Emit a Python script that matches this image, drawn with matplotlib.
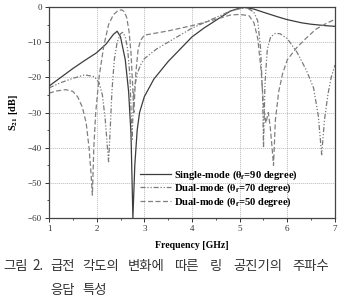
"""S21 response of the ring resonator for three feed angles (single / dual mode)."""
import matplotlib
matplotlib.use("Agg")
import matplotlib.pyplot as plt
from matplotlib.ticker import MultipleLocator

# values (GHz, dB)
single_f = [1.0, 1.25, 1.5, 1.75, 2.0, 2.2, 2.35, 2.43, 2.5, 2.6, 2.67, 2.72, 2.76,
            2.8, 2.85, 2.9, 3.0, 3.2, 3.5, 3.75, 4.0, 4.25, 4.5, 4.8, 5.0, 5.1,
            5.3, 5.5, 5.8, 6.0, 6.3, 6.5, 6.8, 7.0]
single_db = [-22.5, -20.0, -17.5, -15.2, -13.0, -10.5, -7.8, -6.9, -8.5, -15.0, -24.0, -36.0, -60.0,
             -45.0, -35.0, -30.0, -25.5, -20.5, -15.5, -12.0, -8.5, -6.0, -3.8, -1.2, -0.3, -0.1,
             -0.6, -1.5, -2.8, -3.6, -4.5, -4.9, -5.3, -5.5]

dual70_f = [1.0, 1.25, 1.5, 1.75, 1.95, 2.05, 2.12, 2.18, 2.22, 2.25, 2.28, 2.32, 2.37,
            2.43, 2.5, 2.55, 2.6, 2.65, 2.7, 2.74, 2.78, 2.85, 2.92, 3.0, 3.25, 3.5,
            3.75, 4.0, 4.5, 4.8, 5.0, 5.15, 5.3, 5.38, 5.44, 5.48, 5.5, 5.53, 5.58,
            5.65, 5.75, 5.85, 6.0, 6.2, 6.4, 6.55, 6.65, 6.72, 6.78, 6.85, 6.92, 7.0]
dual70_db = [-23.0, -21.5, -20.3, -19.3, -19.8, -21.5, -25.0, -32.0, -39.0, -44.0, -36.0, -24.0, -15.0,
             -10.0, -7.6, -7.2, -8.5, -12.0, -20.0, -38.0, -24.0, -19.0, -16.5, -14.7, -12.0, -10.0,
             -8.0, -6.0, -3.0, -1.2, -0.5, -0.2, -1.5, -4.0, -12.0, -25.0, -40.0, -22.0, -12.0,
             -8.5, -7.5, -7.6, -9.0, -12.8, -18.0, -23.0, -31.0, -42.0, -32.0, -25.0, -20.0, -16.5]

dual50_f = [1.0, 1.15, 1.35, 1.5, 1.6, 1.7, 1.78, 1.84, 1.88, 1.91, 1.94, 1.98, 2.05,
            2.15, 2.25, 2.35, 2.45, 2.52, 2.58, 2.63, 2.68, 2.72, 2.75, 2.78, 2.82, 2.87,
            2.92, 3.0, 3.5, 4.0, 4.5, 4.8, 5.0, 5.2, 5.3, 5.38, 5.45, 5.5, 5.55, 5.6,
            5.64, 5.68, 5.71, 5.75, 5.82, 5.9, 6.0, 6.2, 6.4, 6.6, 6.8, 7.0]
dual50_db = [-24.5, -23.9, -23.5, -24.0, -25.5, -28.5, -33.0, -40.0, -47.0, -53.5, -40.0, -30.0, -20.0,
             -11.0, -5.0, -2.2, -1.0, -0.8, -1.3, -3.0, -7.0, -13.0, -21.0, -30.0, -19.0, -12.0,
             -9.5, -8.0, -6.8, -5.3, -3.5, -2.3, -2.1, -2.5, -4.5, -9.0, -18.0, -28.0, -33.0, -30.0,
             -34.0, -40.0, -45.0, -32.0, -24.0, -19.0, -15.0, -11.5, -8.8, -6.3, -4.8, -3.5]

labels = [r"Single-mode ($\mathbf{\theta_f}$=90 degree)",
          r"Dual-mode ($\mathbf{\theta_f}$=70 degree)",
          r"Dual-mode ($\mathbf{\theta_f}$=50 degree)"]

# caption words with their left edge (pixels) as laid out in the figure
caption1 = ["그림", "2.", "급전", "각도의", "변화에", "따른", "링", "공진기의", "주파수"]
caption1_x = [3, 32, 50, 82, 128, 175, 210, 233, 292]
caption2 = ["응답", "특성"]
caption2_x = [50, 82]

W, H = 342, 306
plt.rcParams["font.family"] = ["Liberation Serif", "DejaVu Serif"]
plt.rcParams["mathtext.fontset"] = "stix"

fig = plt.figure(figsize=(W / 100, H / 100), dpi=100)
ax = fig.add_axes([49 / W, 1 - 218 / H, 286 / W, 211 / H])

ax.plot(single_f, single_db, color="#3c3c3c", linewidth=0.9, label=labels[0])
ax.plot(dual70_f, dual70_db, color="#7a7a7a", linewidth=0.9,
        dashes=(4, 1.5, 1, 1.5, 1, 1.5), label=labels[1])
ax.plot(dual50_f, dual50_db, color="#808080", linewidth=0.9,
        dashes=(4, 2), label=labels[2])

ax.set_xlim(1, 7)
ax.set_ylim(-60, 0)
ax.xaxis.set_major_locator(MultipleLocator(1))
ax.xaxis.set_minor_locator(MultipleLocator(0.5))
ax.yaxis.set_major_locator(MultipleLocator(10))
ax.yaxis.set_minor_locator(MultipleLocator(5))
ax.tick_params(which="both", direction="out", labelsize=6.5, colors="#333333", pad=2)
ax.tick_params(which="major", length=3, width=0.7)
ax.tick_params(which="minor", length=1.5, width=0.6)
ax.grid(True, which="major", color="#888888", linestyle=(0, (0.8, 1.6)), linewidth=0.6)
for sp in ax.spines.values():
    sp.set_color("#444444")
    sp.set_linewidth(0.9)

ax.set_xlabel("Frequency [GHz]", fontsize=7, fontweight="bold", labelpad=6)
ax.set_ylabel(r"S$_\mathbf{21}$ [dB]", fontsize=7.5, fontweight="bold", labelpad=6)

ax.legend(loc="lower left", bbox_to_anchor=(0.318, 0.045), frameon=False,
          prop={"size": 7.6, "weight": "bold"}, handlelength=2.9, borderpad=0,
          borderaxespad=0, handletextpad=0.3, labelspacing=0.0)

cap_font = ["Noto Sans CJK KR", "DejaVu Sans"]
for word, x in zip(caption1, caption1_x):
    fig.text(x / W, 1 - 266 / H, word, fontsize=9.6, family=cap_font,
             color="#333333", va="center")
for word, x in zip(caption2, caption2_x):
    fig.text(x / W, 1 - 290 / H, word, fontsize=9.6, family=cap_font,
             color="#333333", va="center")

fig.savefig("out.png", dpi=100)
